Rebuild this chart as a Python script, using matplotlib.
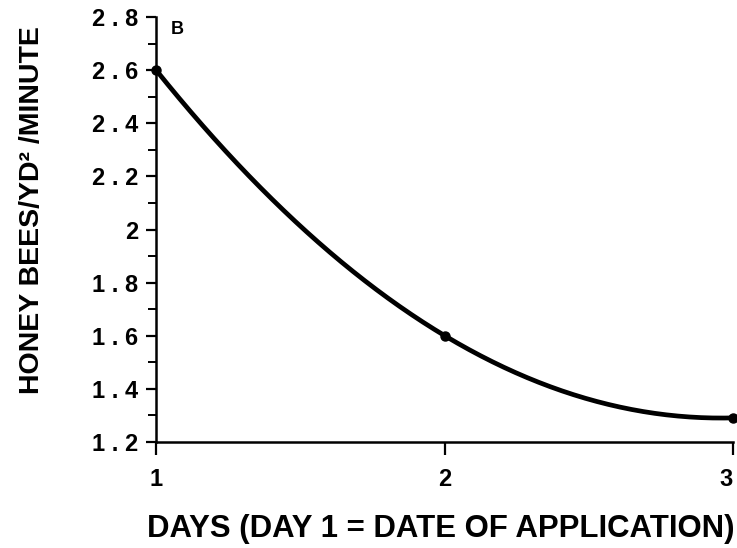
import numpy as np
import matplotlib
matplotlib.use("Agg")
import matplotlib.pyplot as plt
from matplotlib.ticker import MultipleLocator, FixedLocator

plt.rcParams['font.family'] = ['Liberation Sans', 'DejaVu Sans']

# observed means per day
days = [1, 2, 3]
bees = [2.6, 1.6, 1.29]

# fitted curve, read at quarter-day steps
curve_days = [1.0, 1.25, 1.5, 1.75, 2.0, 2.25, 2.5, 2.75, 3.0]
curve_bees = [2.6, 2.285, 2.014, 1.785, 1.6, 1.458, 1.362, 1.306, 1.29]

y_ticks = [1.2, 1.4, 1.6, 1.8, 2.0, 2.2, 2.4, 2.6, 2.8]
y_labels = ["1 . 2", "1 . 4", "1 . 6", "1 . 8", "2", "2 . 2", "2 . 4", "2 . 6", "2 . 8"]
x_ticks = [1, 2, 3]
x_labels = ["1", "2", "3"]

fig = plt.figure(figsize=(7.37, 5.48), dpi=100)
ax = fig.add_axes([0.2117, 0.1934, 0.7829, 0.7756])

# smooth the curve between the read points with a cubic through them
xs = np.array(curve_days)
ys = np.array(curve_bees)
fine = np.linspace(xs[0], xs[-1], 200)
coef = np.polyfit(xs, ys, 3)
ax.plot(fine, np.polyval(coef, fine), color='black', lw=3.4, solid_capstyle='round', clip_on=False)
ax.plot(days, bees, 'o', color='black', ms=6.5, clip_on=False)

ax.set_xlim(1, 3)
ax.set_ylim(1.2, 2.8)

ax.spines['top'].set_visible(False)
ax.spines['right'].set_visible(False)
ax.spines['left'].set_linewidth(1.8)
ax.spines['bottom'].set_linewidth(1.8)

ax.yaxis.set_major_locator(FixedLocator(y_ticks))
ax.set_yticklabels(y_labels)
ax.yaxis.set_minor_locator(MultipleLocator(0.1))
ax.xaxis.set_major_locator(FixedLocator(x_ticks))
ax.set_xticklabels(x_labels)

ax.tick_params(axis='y', which='major', direction='out', length=7, width=1.6, pad=6,
               labelsize=17)
ax.tick_params(axis='y', which='minor', direction='out', length=6, width=1.4)
ax.tick_params(axis='x', which='major', direction='out', length=9, width=1.6, pad=10,
               labelsize=17)
for lab in ax.get_xticklabels() + ax.get_yticklabels():
    lab.set_fontweight('bold')
# last day label sits against the right edge of the figure
ax.get_xticklabels()[-1].set_horizontalalignment('right')

ax.set_xlabel("DAYS (DAY 1 = DATE OF APPLICATION)", fontsize=22.4, fontweight='bold')
ax.xaxis.set_label_coords(0.494, -0.17)
ax.set_ylabel("HONEY BEES/YD² /MINUTE", fontsize=20.5, fontweight='bold')
ax.yaxis.set_label_coords(-0.193, 0.545)

ax.text(0.025, 0.99, "B", transform=ax.transAxes, fontsize=13, fontweight='bold',
        va='top', ha='left')

fig.savefig("out.png", dpi=100)
